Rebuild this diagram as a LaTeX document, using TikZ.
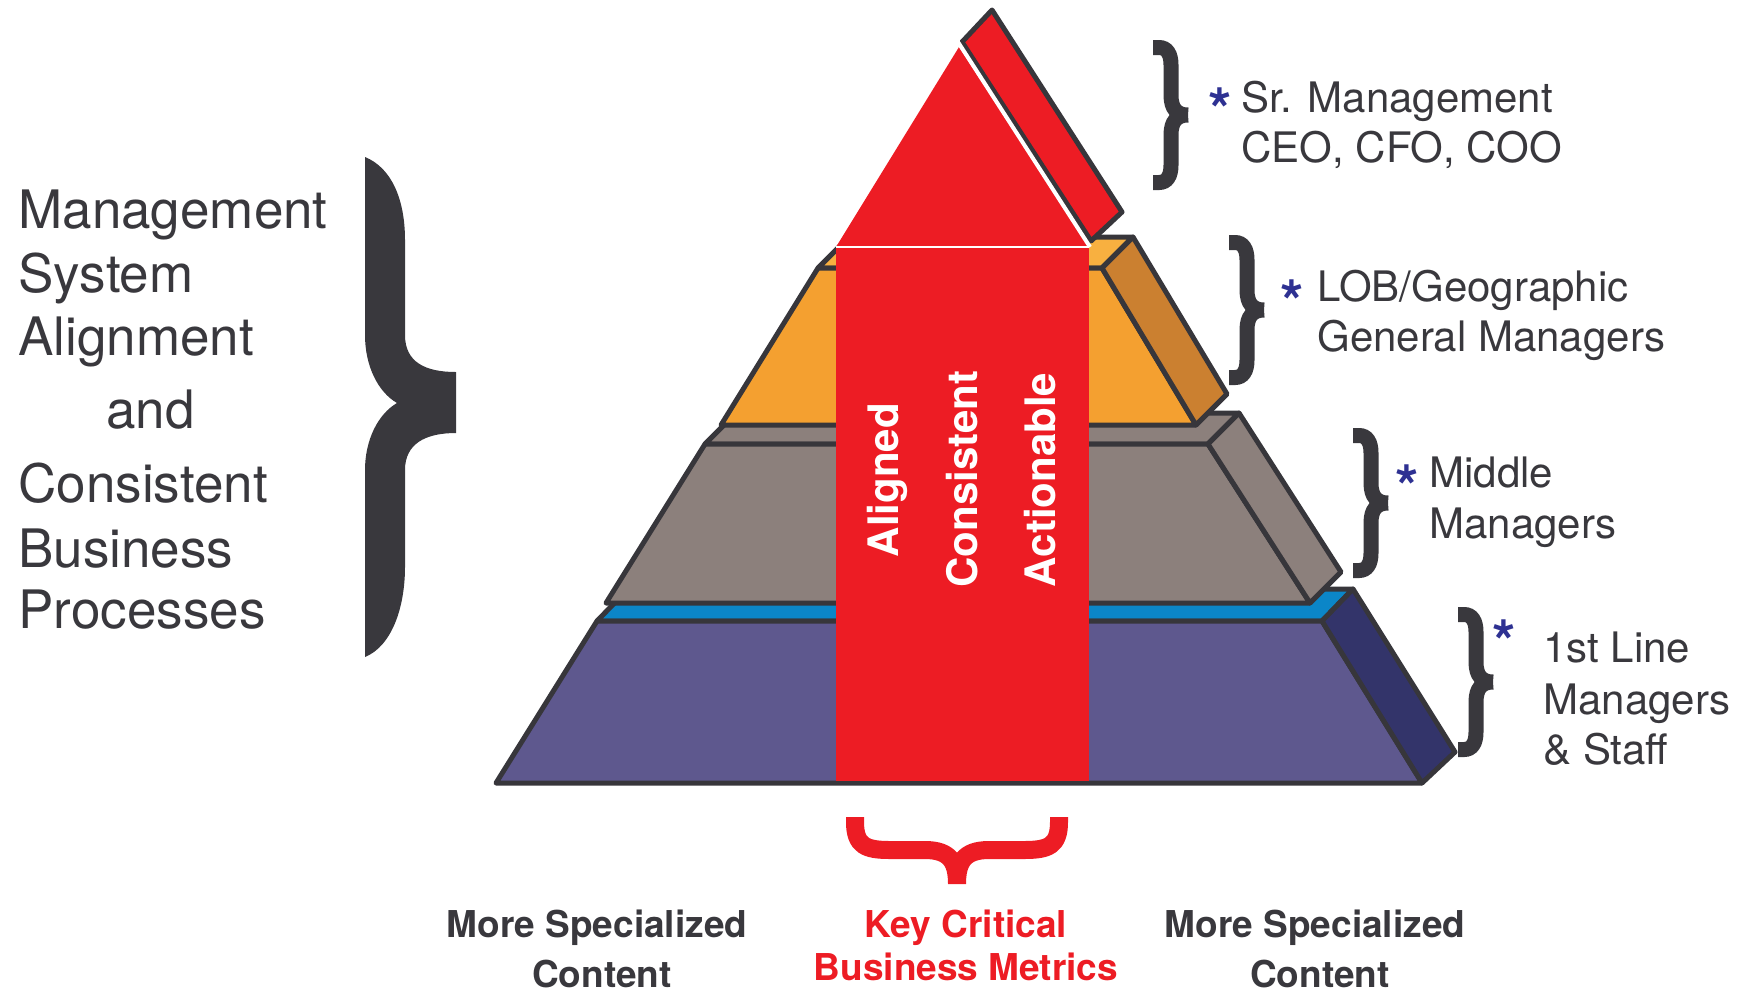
\documentclass[tikz,border=0pt]{standalone}
\usepackage{fontspec}
\setmainfont{TeX Gyre Heros}
\definecolor{inkgray}{RGB}{57,56,61}
\definecolor{outline}{RGB}{55,54,59}
\definecolor{keyred}{RGB}{237,28,36}
\definecolor{staffpurple}{RGB}{94,88,142}
\definecolor{staffnavy}{RGB}{51,52,106}
\definecolor{staffblue}{RGB}{11,134,200}
\definecolor{midgray}{RGB}{140,128,124}
\definecolor{loborange}{RGB}{244,160,48}
\definecolor{lobtop}{RGB}{248,176,64}
\definecolor{lobside}{RGB}{203,128,48}
\definecolor{starblue}{RGB}{46,49,146}

% brace on the right of a layer: #1 = left x, #2 = middle y
\newcommand{\sidebrace}[2]{%
  \draw[bracestroke] (#1,#2-67.5) -- (#1+6,#2-67.5) .. controls (#1+14,#2-67.5) and (#1+18,#2-61) .. (#1+18,#2-50)
    -- (#1+18,#2-20) .. controls (#1+18,#2-6) and (#1+24,#2) .. (#1+35,#2)
    (#1+35,#2) .. controls (#1+24,#2) and (#1+18,#2+6) .. (#1+18,#2+20)
    -- (#1+18,#2+50) .. controls (#1+18,#2+61) and (#1+14,#2+67.5) .. (#1+6,#2+67.5) -- (#1,#2+67.5);}

\begin{document}
\begin{tikzpicture}[x=0.5pt, y=-0.5pt,
  layer/.style={draw=outline, line width=2.5pt, line join=round},
  bracestroke/.style={draw=inkgray, line width=7.5pt, line cap=butt},
  lefttext/.style={font=\fontsize{26.5}{30}\selectfont, text=inkgray, anchor=base west, inner sep=0},
  sidetext/.style={font=\fontsize{21}{25}\selectfont, text=inkgray, anchor=base west, inner sep=0},
  bottext/.style={font=\bfseries\fontsize{18.5}{22}\selectfont, text=inkgray, anchor=base, inner sep=0},
  coltext/.style={font=\bfseries\fontsize{21}{25}\selectfont, text=white, rotate=90, anchor=base, inner sep=0},
  astx/.style={font=\bfseries\fontsize{30}{34}\selectfont, text=starblue, inner sep=0, yshift=-6pt}]
\useasboundingbox (0,0) rectangle (1744,992);

% 1st line managers & staff
\filldraw[layer, fill=staffblue] (597,621) -- (628,589) -- (1353,589) -- (1322,621) -- cycle;
\filldraw[layer, fill=staffpurple] (496,783) -- (597,621) -- (1322,621) -- (1422,783) -- cycle;
\filldraw[layer, fill=staffnavy] (1322,621) -- (1353,589) -- (1455,752) -- (1422,783) -- cycle;

% middle managers
\filldraw[layer, fill=midgray] (705,444) -- (736,413) -- (1239,413) -- (1208,444) -- cycle;
\filldraw[layer, fill=midgray] (606,603) -- (705,444) -- (1208,444) -- (1310,603) -- cycle;
\filldraw[layer, fill=midgray] (1208,444) -- (1239,413) -- (1341,572) -- (1310,603) -- cycle;

% LOB / geographic
\filldraw[layer, fill=lobtop] (818,268) -- (849,237) -- (1133,237) -- (1102,268) -- cycle;
\filldraw[layer, fill=loborange] (721,425) -- (818,268) -- (1102,268) -- (1196,425) -- cycle;
\filldraw[layer, fill=lobside] (1102,268) -- (1133,237) -- (1227,394) -- (1196,425) -- cycle;

% red column and top
\fill[keyred] (836,247) rectangle (1089,781);
\filldraw[layer, fill=keyred] (962,42) -- (992,10) -- (1122,212) -- (1091,241) -- cycle;
\fill[keyred] (836,247) -- (959,47) -- (1089,247) -- cycle;
\draw[white, line width=2pt] (958,42) -- (1090,247);
\draw[white, line width=0.75pt] (836,247) -- (1089,247);

\node[coltext] (aligned) at (898,480) {Aligned};
\node[coltext] (consistent) at (977,479) {Consistent};
\node[coltext] (actionable) at (1055,480) {Actionable};

% left side
\node[lefttext] (mgmt1) at (18,228) {Management};
\node[lefttext] (mgmt2) at (18,292) {System};
\node[lefttext] (mgmt3) at (18,355) {Alignment};
\node[lefttext] (mgmt4) at (106,428) {and};
\node[lefttext] (mgmt5) at (18,502) {Consistent};
\node[lefttext] (mgmt6) at (18,567) {Business};
\node[lefttext] (mgmt7) at (18,628) {Processes};
\fill[inkgray] (365,157) .. controls (392,168) and (405,200) .. (405,240) -- (405,335)
  .. controls (405,362) and (425,372) .. (456,372) -- (456,433)
  .. controls (425,433) and (405,444) .. (405,470) -- (405,567)
  .. controls (405,607) and (392,646) .. (365,657) -- (365,470)
  .. controls (365,440) and (378,414) .. (397,403)
  .. controls (378,392) and (365,366) .. (365,335) -- cycle;

% right side
\sidebrace{1153}{115}
\node[astx] (ast1) at (1220,98) {*};
\node[sidetext] (sr1) at (1241,112) {Sr. Management};
\node[sidetext] (sr2) at (1241,162) {CEO, CFO, COO};

\sidebrace{1229}{310}
\node[astx] (ast2) at (1292,290) {*};
\node[sidetext] (lob1) at (1317,301) {LOB/Geographic};
\node[sidetext] (lob2) at (1317,351) {General Managers};

\sidebrace{1353}{503}
\node[astx] (ast3) at (1407,475) {*};
\node[sidetext] (mid1) at (1429,487) {Middle};
\node[sidetext] (mid2) at (1429,538) {Managers};

\sidebrace{1458}{682}
\node[astx] (ast4) at (1504,630) {*};
\node[sidetext] (staff1) at (1543,662) {1st Line};
\node[sidetext] (staff2) at (1543,714) {Managers};
\node[sidetext] (staff3) at (1543,764) {\& Staff};

% bottom
\draw[keyred, line width=9pt] (855,817) -- (855,822) .. controls (855,846) and (866,850) .. (890,850) -- (925,850)
  .. controls (950,850) and (957,862) .. (957,884)
  (1059,817) -- (1059,822) .. controls (1059,846) and (1048,850) .. (1024,850) -- (989,850)
  .. controls (964,850) and (957,862) .. (957,884);
\node[bottext] (specl1) at (597,937) {More Specialized};
\node[bottext] (specl2) at (602,987) {Content};
\node[bottext, text=keyred] (key1) at (966,937) {Key Critical};
\node[bottext, text=keyred] (key2) at (966,980) {Business Metrics};
\node[bottext] (specr1) at (1315,937) {More Specialized};
\node[bottext] (specr2) at (1320,987) {Content};
\end{tikzpicture}
\end{document}
